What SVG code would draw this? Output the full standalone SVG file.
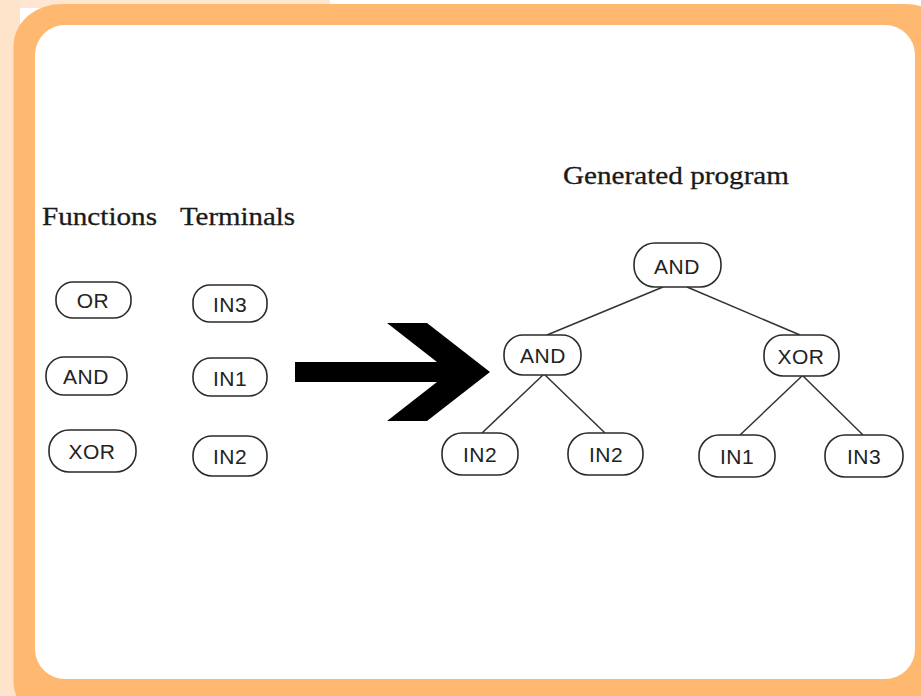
<svg xmlns="http://www.w3.org/2000/svg" width="921" height="696" viewBox="0 0 921 696">
<style>
.node rect{fill:#fff;stroke:#2a2a2a;stroke-width:1.6}
.node text{font-family:"Liberation Sans",Arial,sans-serif;font-size:21px;fill:#222;text-anchor:middle;letter-spacing:0.5px}
.lbl{font-family:"Liberation Serif","Times New Roman",serif;font-size:26px;fill:#1a1a1a;stroke:#1a1a1a;stroke-width:0.3}
#connectors line{stroke:#333;stroke-width:1.5}
</style>
<rect x="0" y="0" width="921" height="696" fill="#fff"/>
<rect x="0" y="0" width="330" height="8" fill="#FFE6D0"/>
<rect x="0" y="0" width="20" height="696" fill="#FFE4CC"/>
<rect x="13.5" y="4" width="940" height="720" rx="48" ry="42" fill="#FFB870"/>
<rect x="35" y="25" width="880" height="654" rx="30" ry="30" fill="#fff"/>

<text class="lbl" x="42" y="225" textLength="115" lengthAdjust="spacingAndGlyphs">Functions</text>
<text class="lbl" x="180" y="225" textLength="115" lengthAdjust="spacingAndGlyphs">Terminals</text>
<text class="lbl" x="563" y="184" textLength="226" lengthAdjust="spacingAndGlyphs">Generated program</text>

<path id="arrow" d="M295,362 L437,362 L387,323 L427,323 L490,372 L427,421 L387,421 L437,382 L295,382 Z" fill="#000"/>

<g id="connectors">
<line x1="663" y1="287" x2="547" y2="335"/>
<line x1="687" y1="287" x2="800" y2="335"/>
<line x1="543" y1="375" x2="482" y2="433"/>
<line x1="545" y1="375" x2="605" y2="433"/>
<line x1="802" y1="376" x2="740" y2="435"/>
<line x1="803" y1="376" x2="863" y2="435"/>
</g>

<g id="f-or" class="node"><rect x="56" y="282" width="75" height="36" rx="17"/><text x="93" y="308">OR</text></g>
<g id="f-and" class="node"><rect x="46" y="357" width="81" height="38" rx="18"/><text x="86" y="384">AND</text></g>
<g id="f-xor" class="node"><rect x="49" y="430" width="87" height="42" rx="20"/><text x="92" y="459">XOR</text></g>
<g id="t-in3" class="node"><rect x="193" y="285" width="74" height="37" rx="17"/><text x="230" y="312">IN3</text></g>
<g id="t-in1" class="node"><rect x="193" y="358" width="74" height="38" rx="18"/><text x="230" y="386">IN1</text></g>
<g id="t-in2" class="node"><rect x="193" y="436" width="74" height="40" rx="19"/><text x="230" y="464">IN2</text></g>

<g id="p-and-root" class="node"><rect x="634" y="243" width="87" height="44" rx="21"/><text x="677" y="274">AND</text></g>
<g id="p-and" class="node"><rect x="504" y="335" width="77" height="40" rx="19"/><text x="543" y="363">AND</text></g>
<g id="p-xor" class="node"><rect x="764" y="335" width="75" height="41" rx="19"/><text x="801" y="364">XOR</text></g>
<g id="p-in2a" class="node"><rect x="442" y="433" width="76" height="42" rx="20"/><text x="480" y="462">IN2</text></g>
<g id="p-in2b" class="node"><rect x="568" y="433" width="75" height="42" rx="20"/><text x="606" y="462">IN2</text></g>
<g id="p-in1" class="node"><rect x="699" y="435" width="76" height="42" rx="20"/><text x="737" y="464">IN1</text></g>
<g id="p-in3" class="node"><rect x="825" y="435" width="78" height="42" rx="20"/><text x="864" y="464">IN3</text></g>
</svg>
